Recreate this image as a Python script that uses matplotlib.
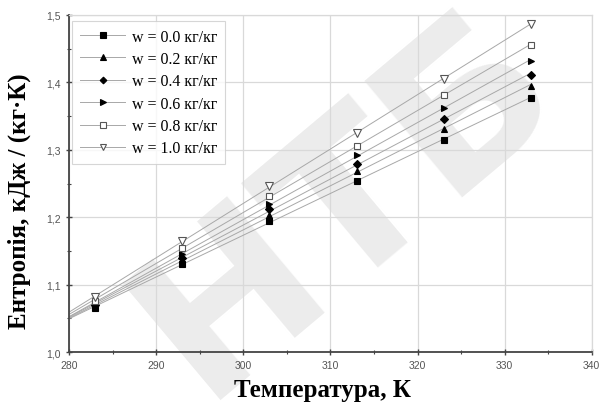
import numpy as np
import matplotlib
matplotlib.use("Agg")
import matplotlib.pyplot as plt
from matplotlib.ticker import MultipleLocator, FuncFormatter

temperature = [283, 293, 303, 313, 323, 333]
labels = ["w = 0.0 кг/кг", "w = 0.2 кг/кг", "w = 0.4 кг/кг",
          "w = 0.6 кг/кг", "w = 0.8 кг/кг", "w = 1.0 кг/кг"]
s_w00 = [1.066, 1.130, 1.195, 1.254, 1.315, 1.377]
s_w02 = [1.068, 1.135, 1.203, 1.269, 1.331, 1.395]
s_w04 = [1.070, 1.140, 1.212, 1.279, 1.346, 1.411]
s_w06 = [1.072, 1.146, 1.220, 1.292, 1.362, 1.432]
s_w08 = [1.076, 1.155, 1.232, 1.306, 1.381, 1.455]
s_w10 = [1.082, 1.165, 1.246, 1.325, 1.405, 1.487]
series = [s_w00, s_w02, s_w04, s_w06, s_w08, s_w10]

markers = ['s', '^', 'D', '>', 's', 'v']
filled = [True, True, True, True, False, False]
msizes = [4.5, 5, 4, 5, 4.5, 5.5]

fig = plt.figure(figsize=(6.02, 4.06), dpi=100)
ax = fig.add_axes([0.1146, 0.1305, 0.8684, 0.8301])
ax.set_facecolor('none')

# watermark
fig.text(0.575, 0.5, "НТБ", rotation=40, fontsize=150, color='#ececec',
         ha='center', va='center', family='DejaVu Sans', fontweight='bold',
         zorder=-1)

x_fit = np.array([280, 333])
for vals, m, f, ms, lab in zip(series, markers, filled, msizes, labels):
    k, b = np.polyfit(temperature, vals, 1)
    ax.plot(x_fit, k * x_fit + b, color='#a8a8a8', lw=0.7, zorder=2)
    fc = 'black' if f else 'white'
    ec = 'black' if f else '#555555'
    ax.plot(temperature, vals, linestyle='none', marker=m, ms=ms,
            mfc=fc, mec=ec, mew=0.8, zorder=3)
    ax.plot([], [], color='#a8a8a8', lw=0.7, marker=m, ms=ms * 0.85,
            mfc=fc, mec=ec, mew=0.8, label=lab)

ax.set_xlim(280, 340)
ax.set_ylim(1.0, 1.5)
ax.xaxis.set_major_locator(MultipleLocator(10))
ax.xaxis.set_minor_locator(MultipleLocator(5))
ax.yaxis.set_major_locator(MultipleLocator(0.1))
ax.yaxis.set_minor_locator(MultipleLocator(0.05))
ax.yaxis.set_major_formatter(FuncFormatter(lambda v, p: f"{v:.1f}".replace('.', ',')))
ax.grid(True, which='major', color='#d9d9d9', lw=0.9)
ax.set_axisbelow(True)

for sp in ['top', 'right']:
    ax.spines[sp].set_color('#d9d9d9')
    ax.spines[sp].set_linewidth(0.9)
for sp in ['left', 'bottom']:
    ax.spines[sp].set_color('#444444')
    ax.spines[sp].set_linewidth(1.3)
ax.tick_params(which='both', direction='inout', colors='#444444',
               labelcolor='#555555', labelsize=7.5)
ax.tick_params(which='major', length=5, width=1.0)
ax.tick_params(which='minor', length=3, width=0.8)
ax.tick_params(top=False, right=False, which='both')
for t in ax.get_xticklabels() + ax.get_yticklabels():
    t.set_family('Liberation Sans')

ax.set_xlabel("Температура, К", family='Liberation Serif', fontweight='bold',
              fontsize=18, va='center')
ax.xaxis.set_label_coords(0.484, -0.11)
ax.set_ylabel("Ентропія, кДж / (кг·К)", family='Liberation Serif',
              fontweight='bold', fontsize=18, va='center')
ax.yaxis.set_label_coords(-0.096, 0.45)

leg = ax.legend(loc='upper left', prop={'family': 'Liberation Serif', 'size': 11.5},
                frameon=True, fancybox=False, edgecolor='#cccccc',
                handlelength=2.8, handletextpad=0.45, labelspacing=0.4,
                borderpad=0.5, borderaxespad=0.2,
                bbox_to_anchor=(0.0, 0.993))
leg.get_frame().set_linewidth(0.8)

fig.savefig("out.png", dpi=100)
